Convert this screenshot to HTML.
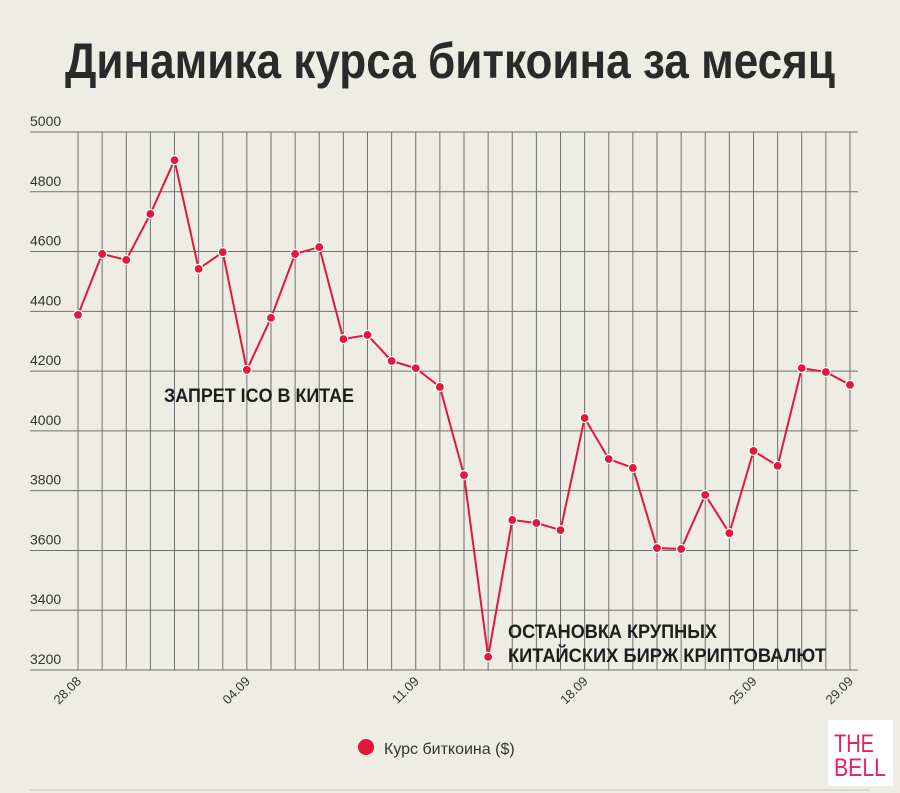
<!DOCTYPE html>
<html><head><meta charset="utf-8"><style>
body{margin:0;background:#eeede3;}
svg{display:block;font-family:"Liberation Sans","DejaVu Sans",sans-serif;}
</style></head><body>
<svg width="900" height="793" viewBox="0 0 900 793">
<rect width="900" height="793" fill="#eeede3"/>
<text x="65" y="78" font-size="50" font-weight="bold" fill="#2a2a2a" textLength="770" lengthAdjust="spacingAndGlyphs">Динамика курса биткоина за месяц</text>
<g id="grid"></g>
<g id="yticks"></g>
<g id="xticks"></g>
<path id="line" fill="none" stroke="#e3173e" stroke-width="2"/>
<g id="pts"></g>
<text x="164" y="402" font-size="19" font-weight="bold" fill="#1e1e1e" textLength="190" lengthAdjust="spacingAndGlyphs">ЗАПРЕТ ICO В КИТАЕ</text>
<text x="508" y="638" font-size="19" font-weight="bold" fill="#1e1e1e" textLength="209" lengthAdjust="spacingAndGlyphs">ОСТАНОВКА КРУПНЫХ</text>
<text x="508" y="662" font-size="19" font-weight="bold" fill="#1e1e1e" textLength="318" lengthAdjust="spacingAndGlyphs">КИТАЙСКИХ БИРЖ КРИПТОВАЛЮТ</text>
<g>
<circle cx="366" cy="747" r="8" fill="#e3173e"/>
<text x="384" y="754" font-size="16" fill="#333">Курс биткоина ($)</text>
</g>
<line x1="30" y1="790" x2="870" y2="790" stroke="#c8c7bd" stroke-width="1"/>
<g>
<rect x="828" y="720" width="65" height="66" fill="#fff"/>
<text x="834" y="752" font-size="25" fill="#e0245e" textLength="40" lengthAdjust="spacingAndGlyphs">THE</text>
<text x="834" y="776" font-size="25" fill="#e0245e" textLength="52" lengthAdjust="spacingAndGlyphs">BELL</text>
</g>
</svg>
<script>
const dates = ["28.08","29.08","30.08","31.08","01.09","02.09","03.09","04.09","05.09","06.09","07.09","08.09","09.09","10.09","11.09","12.09","13.09","14.09","15.09","16.09","17.09","18.09","19.09","20.09","21.09","22.09","23.09","24.09","25.09","26.09","27.09","28.09","29.09"];
const prices = [4388,4592,4572,4726,4906,4542,4598,4204,4378,4592,4615,4307,4321,4234,4210,4147,3852,3244,3702,3692,3668,4043,3906,3876,3608,3605,3786,3658,3933,3883,4210,4197,4154];
const yTicks = [3200,3400,3600,3800,4000,4200,4400,4600,4800,5000];
const xLabels = ["28.08","04.09","11.09","18.09","25.09","29.09"];
const NS="http://www.w3.org/2000/svg";
const x0=78,x1=850,yTop=132,yBot=670;
function xs(i){return x0+i*(x1-x0)/(dates.length-1);}
function ys(v){return yBot-(v-3200)/(5000-3200)*(yBot-yTop);}
function mk(t,a,p){const e=document.createElementNS(NS,t);for(const k in a)e.setAttribute(k,a[k]);p.appendChild(e);return e;}
const grid=document.getElementById('grid');
yTicks.forEach(v=>{const l=mk('line',{x1:30,x2:858,y1:ys(v),y2:ys(v),stroke:'#707070','stroke-width':1},grid);


const t=mk('text',{x:30,y:ys(v)-6,'font-size':14,fill:'#333'},document.getElementById('yticks'));t.textContent=v;

});
dates.forEach((d,i)=>{const l=mk('line',{x1:xs(i),x2:xs(i),y1:yTop,y2:yBot,stroke:'#707070','stroke-width':1},grid);


if(xLabels.includes(d)){const x=xs(i),y=yBot+12;const t=mk('text',{x:x+4,y:y,'font-size':13,fill:'#333','text-anchor':'end',transform:`rotate(-45 ${x+4} ${y})`},document.getElementById('xticks'));t.textContent=d;

}});
document.getElementById('line').setAttribute('d',prices.map((v,i)=>(i?'L':'M')+xs(i)+' '+ys(v)).join(''));
prices.forEach((v,i)=>{const c=mk('circle',{cx:xs(i),cy:ys(v),r:4.5,fill:'#e3173e',stroke:'#fff','stroke-width':1.2},document.getElementById('pts'));

});
</script>
</body></html>
